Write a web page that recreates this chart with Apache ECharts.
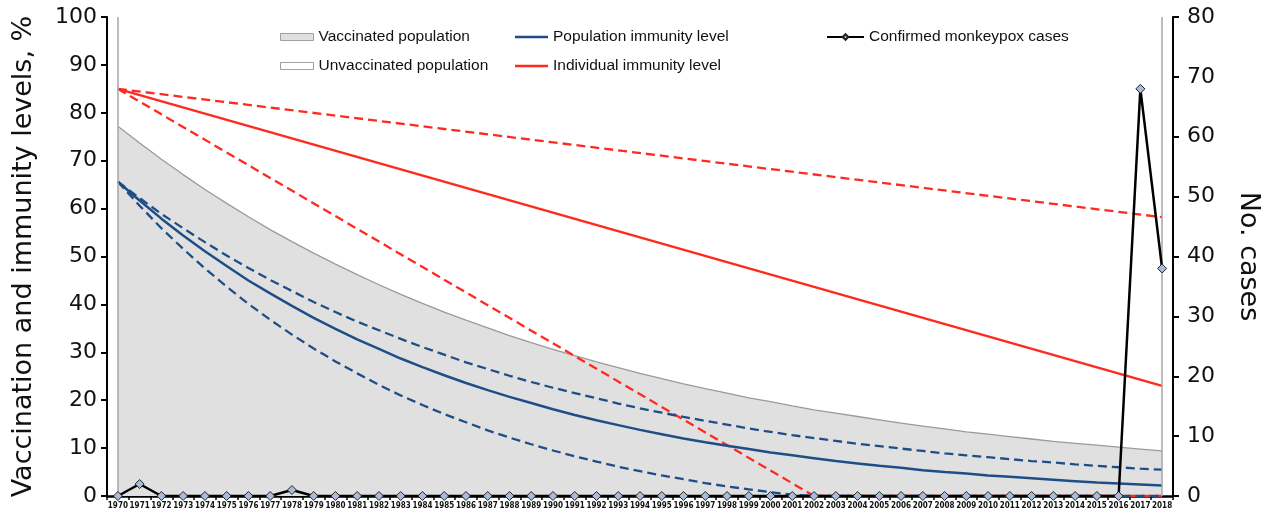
<!DOCTYPE html>
<html>
<head>
<meta charset="utf-8">
<script src="https://cdn.jsdelivr.net/npm/echarts@6/dist/echarts.min.js"></script>
<style>html,body{margin:0;padding:0;background:#fff}#c{width:1270px;height:516px}</style>
</head>
<body>
<div id="c"></div>
<script>
const years = ['1970','1971','1972','1973','1974','1975','1976','1977','1978','1979','1980','1981','1982','1983','1984','1985','1986','1987','1988','1989','1990','1991','1992','1993','1994','1995','1996','1997','1998','1999','2000','2001','2002','2003','2004','2005','2006','2007','2008','2009','2010','2011','2012','2013','2014','2015','2016','2017','2018'];

const vaccinated = [77.2,73.7,70.3,67.1,64.0,61.1,58.3,55.6,53.1,50.7,48.4,46.2,44.1,42.1,40.2,38.4,36.7,35.1,33.5,32.0,30.6,29.3,28.0,26.8,25.6,24.5,23.4,22.4,21.5,20.5,19.7,18.8,18.0,17.3,16.6,15.9,15.2,14.6,14.0,13.4,12.9,12.4,11.9,11.4,11.0,10.6,10.2,9.8,9.4];

const popImmunity = [65.6,61.7,57.9,54.4,51.1,48.0,45.0,42.3,39.7,37.2,34.9,32.7,30.7,28.7,26.9,25.2,23.6,22.1,20.7,19.4,18.1,16.9,15.8,14.8,13.8,12.9,12.0,11.2,10.5,9.8,9.1,8.5,7.9,7.3,6.8,6.3,5.9,5.4,5.0,4.7,4.3,4.0,3.7,3.4,3.1,2.8,2.6,2.4,2.2];

const popImmunityUpper = [65.6,62.2,58.9,55.9,53.0,50.2,47.6,45.1,42.8,40.5,38.4,36.4,34.6,32.8,31.1,29.5,27.9,26.5,25.1,23.8,22.6,21.5,20.4,19.3,18.3,17.4,16.5,15.7,14.9,14.1,13.4,12.7,12.1,11.5,10.9,10.4,9.9,9.4,8.9,8.5,8.1,7.7,7.3,7.0,6.6,6.3,6.0,5.7,5.5];

const popImmunityLower = [65.6,60.6,55.9,51.6,47.5,43.7,40.1,36.8,33.7,30.8,28.1,25.6,23.2,21.0,19.0,17.1,15.4,13.7,12.2,10.8,9.5,8.3,7.2,6.1,5.2,4.3,3.5,2.7,2.0,1.4,0.8,0.3,0,0,0,0,0,0,0,0,0,0,0,0,0,0,0,0,0];

// straight lines: [category index, value]
const indivImmunity = [[0,85],[48,23.0]];
const indivImmunityUpper = [[0,85],[48,58.2]];
const indivImmunityLower = [[0,85],[31.5,0],[48,0]];

const cases = [0,2,0,0,0,0,0,0,1,0,0,0,0,0,0,0,0,0,0,0,0,0,0,0,0,0,0,0,0,0,0,0,0,0,0,0,0,0,0,0,0,0,0,0,0,0,0,68,38];

const leftTicks = [0,10,20,30,40,50,60,70,80,90,100];
const rightTicks = [0,10,20,30,40,50,60,70,80];

const unvaccinated = vaccinated.map(v => +(100 - v).toFixed(1));

const BLUE = '#1f4e87', RED = '#ff2a1f', GRAY = '#a6a6a6';
const chart = echarts.init(document.getElementById('c'));
const legText = {fontSize: 15.5, fontFamily: 'Liberation Sans, Arial, sans-serif', color: '#111', lineHeight: 18};

chart.setOption({
  animation: false,
  grid: {left: 107, right: 97, top: 17, bottom: 20, containLabel: false},
  legend: [
    {orient: 'vertical', left: 275, top: 23, itemWidth: 33, itemHeight: 7, itemGap: 11, textStyle: legText,
     data: [
      {name: 'Vaccinated population', icon: 'rect', itemStyle: {color: '#e0e0e0', borderColor: '#a0a0a0', borderWidth: 1}},
      {name: 'Unvaccinated population', icon: 'rect', itemStyle: {color: '#ffffff', borderColor: '#a0a0a0', borderWidth: 1}}
     ]},
    {orient: 'vertical', left: 510, top: 23, itemWidth: 33, itemHeight: 2.5, itemGap: 11, textStyle: legText,
     data: [
      {name: 'Population immunity level', icon: 'rect', itemStyle: {color: BLUE, borderWidth: 0}},
      {name: 'Individual immunity level', icon: 'rect', itemStyle: {color: RED, borderWidth: 0}}
     ]},
    {orient: 'vertical', left: 821, top: 23, itemWidth: 37, itemHeight: 7, itemGap: 11, textStyle: legText,
     data: ['Confirmed monkeypox cases']}
  ],
  xAxis: {
    type: 'category', data: years, boundaryGap: true,
    axisLine: {lineStyle: {color: '#000', width: 2.5}},
    axisTick: {show: true, length: 4, lineStyle: {color: '#000', width: 1.5}},
    axisLabel: {interval: 0, margin: 6, color: '#111', fontSize: 8, fontWeight: 'bold', fontFamily: 'DejaVu Sans Condensed, DejaVu Sans, sans-serif'},
    splitLine: {show: false}
  },
  yAxis: [
    {type: 'value', min: 0, max: 100, interval: 10, position: 'left',
     name: 'Vaccination and immunity levels, %', nameLocation: 'middle', nameGap: 70, nameRotate: 90,
     nameTextStyle: {fontSize: 27, color: '#111', fontFamily: 'DejaVu Sans, sans-serif'},
     axisLine: {show: true, lineStyle: {color: '#000', width: 2}},
     axisTick: {show: true, length: 6, lineStyle: {color: '#000', width: 2}},
     axisLabel: {margin: 10, color: '#111', fontSize: 22, fontFamily: 'DejaVu Sans, sans-serif',
       customValues: leftTicks},
     splitLine: {show: false}},
    {type: 'value', min: 0, max: 80, interval: 10, position: 'right',
     name: 'No. cases', nameLocation: 'middle', nameGap: 62, nameRotate: -90,
     nameTextStyle: {fontSize: 27, color: '#111', fontFamily: 'DejaVu Sans, sans-serif'},
     axisLine: {show: true, lineStyle: {color: '#000', width: 2}},
     axisTick: {show: true, length: 6, lineStyle: {color: '#000', width: 2}},
     axisLabel: {margin: 14, color: '#111', fontSize: 22, fontFamily: 'DejaVu Sans, sans-serif',
       customValues: rightTicks},
     splitLine: {show: false}}
  ],
  series: [
    {name: 'Vaccinated population', type: 'line', stack: 'pop', data: vaccinated, symbol: 'none',
     lineStyle: {color: '#9a9a9a', width: 1.3}, itemStyle: {color: '#e0e0e0'},
     areaStyle: {color: '#e0e0e0', opacity: 1}, z: 1},
    {name: 'Unvaccinated population', type: 'line', stack: 'pop', data: unvaccinated, symbol: 'none',
     lineStyle: {width: 0, color: '#ffffff'}, itemStyle: {color: '#ffffff'},
     areaStyle: {color: '#ffffff', opacity: 1}, z: 1},
    {name: 'Individual immunity level', type: 'line', data: indivImmunity, symbol: 'none',
     lineStyle: {color: RED, width: 2.5}, itemStyle: {color: RED}, z: 3,
     markLine: {silent: true, symbol: 'none', label: {show: false}, animation: false,
       lineStyle: {color: GRAY, width: 1.5, type: 'solid'},
       data: [{xAxis: 0}, {xAxis: 48}]}},
    {name: 'Individual upper', type: 'line', data: indivImmunityUpper, symbol: 'none',
     lineStyle: {color: RED, width: 2.3, type: [9, 5]}, z: 3},
    {name: 'Individual lower', type: 'line', data: indivImmunityLower, symbol: 'none',
     lineStyle: {color: RED, width: 2.3, type: [9, 5]}, z: 3},
    {name: 'Population immunity level', type: 'line', data: popImmunity, symbol: 'none',
     lineStyle: {color: BLUE, width: 2.5}, itemStyle: {color: BLUE}, z: 4},
    {name: 'Population upper', type: 'line', data: popImmunityUpper, symbol: 'none',
     lineStyle: {color: BLUE, width: 2.3, type: [9, 5]}, z: 4},
    {name: 'Population lower', type: 'line', data: popImmunityLower, symbol: 'none',
     lineStyle: {color: BLUE, width: 2.3, type: [9, 5]}, z: 4},
    {name: 'Confirmed monkeypox cases', type: 'line', yAxisIndex: 1, data: cases,
     symbol: 'diamond', symbolSize: 9, showAllSymbol: true,
     lineStyle: {color: '#000', width: 2.5},
     itemStyle: {color: '#a9bcdc', borderColor: '#222', borderWidth: 1}, z: 5}
  ]
});
</script>
</body>
</html>
